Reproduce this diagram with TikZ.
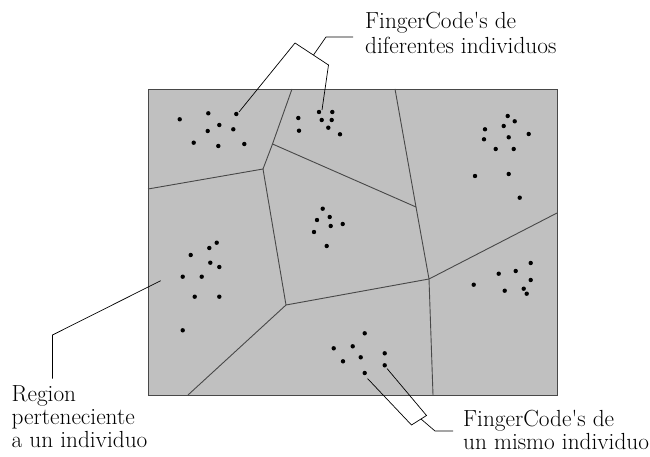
\documentclass[tikz,border=0pt]{standalone}
\definecolor{cellfill}{HTML}{C0C0C0}
\definecolor{edgegray}{HTML}{484848}
\tikzset{
  cellborder/.style={draw=edgegray, line width=0.9pt},
  celledge/.style={draw=edgegray, line width=0.9pt, line join=round},
  leader/.style={draw=black, line width=0.7pt, line join=miter},
  lbl/.style={font=\fontsize{23.3}{25}\selectfont, inner sep=0pt, anchor=base west},
}
\begin{document}
\begin{tikzpicture}[x=1pt, y=-1pt]
\useasboundingbox (0,0) rectangle (650,457);

% outer frame of the partition
\coordinate (nw) at (148,89);
\coordinate (se) at (557,395);
\fill[cellfill] (nw) rectangle (se);

% vertices of the cells
\coordinate (A) at (292,89);
\coordinate (C) at (272.5,144);
\coordinate (B) at (263,169);
\coordinate (L1) at (148,189);
\coordinate (D) at (416,207);
\coordinate (E) at (395,89);
\coordinate (F) at (429,279);
\coordinate (R1) at (557,213);
\coordinate (S1) at (433,395);
\coordinate (G) at (286,305);
\coordinate (S2) at (188,395);

% cell boundaries
\draw[celledge] (A) -- (C) -- (B) -- (L1);
\draw[celledge] (C) -- (D) -- (E);
\draw[celledge] (D) -- (F) -- (R1);
\draw[celledge] (F) -- (S1);
\draw[celledge] (B) -- (G) -- (F);
\draw[celledge] (G) -- (S2);
\draw[cellborder] (nw) rectangle (se);

% feature vectors (dots)
\foreach \p in {
  (179.7,119.3),(208.3,113.3),(236.3,114),(219.3,125),(233.3,129.3),
  (207.7,131),(193.7,142.7),(218.3,146),(244.3,144),
  (298.3,118),(319,112),(332.3,112),(321.7,120),(331.7,120),
  (299,130.7),(328.3,127.7),(340,134.3),
  (507.7,116),(514.7,121.3),(485,129.3),(503.7,126),(528.7,134),
  (484,139.3),(508.7,137.3),(495.7,149),(513.7,149),(475,176),
  (508.7,174),(519.7,197.7),
  (216.7,242.7),(209.3,248),(190.7,255),(210.3,262.7),(219.3,267),
  (182.7,276.7),(201.7,276.7),(194.7,296.7),(219.3,296.7),(182.7,330.3),
  (322.7,208.7),(329.7,217),(317,220),(342.7,224),(330.7,226),
  (314,232),(326.7,246),
  (530.7,263),(515.7,271),(498.7,273.7),(530.7,280),(473.7,284.7),
  (504.7,290.7),(523.7,288.7),(526.7,293.7),
  (364.7,333.3),(352.7,346.3),(333.7,348.3),(384.7,353.3),
  (360.7,357.3),(343,361.3),(384.7,365.3),(364.7,373)}
  \fill[black] \p circle[radius=2.2pt];

% callout: codes of different individuals
\coordinate (ta) at (239,112);
\coordinate (tp) at (295,43);
\coordinate (tc) at (328.5,65);
\coordinate (tb) at (322,110);
\coordinate (ts) at (313.5,55);
\coordinate (tk) at (326,37);
\coordinate (te) at (353,37);
\draw[leader] (ta) -- (tp) -- (tc) -- (tb);
\draw[leader] (ts) -- (tk) -- (te);
\node[lbl] (top1) at (365,29) {FingerCode\textquotesingle s de};
\node[lbl] (top2) at (365,54) {diferentes individuos};

% callout: codes of one individual
\coordinate (ba) at (367.5,378.5);
\coordinate (bp) at (411.5,425);
\coordinate (bc) at (426.5,415.5);
\coordinate (bb) at (387,368.5);
\coordinate (bs) at (421,419);
\coordinate (bk) at (435,431);
\coordinate (be) at (453,431);
\draw[leader] (ba) -- (bp) -- (bc) -- (bb);
\draw[leader] (bs) -- (bk) -- (be);
\node[lbl] (br1) at (463,426.5) {FingerCode\textquotesingle s de};
\node[lbl] (br2) at (463,449.3) {un mismo individuo};

% callout: region of one individual
\coordinate (ra) at (160.7,280.7);
\coordinate (rk) at (52.5,335);
\coordinate (re) at (52.5,378.5);
\draw[leader] (ra) -- (rk) -- (re);
\node[lbl] (bl1) at (11.5,401.7) {Region};
\node[lbl] (bl2) at (11.5,424.5) {perteneciente};
\node[lbl] (bl3) at (11.5,447.3) {a un individuo};
\end{tikzpicture}
\end{document}
